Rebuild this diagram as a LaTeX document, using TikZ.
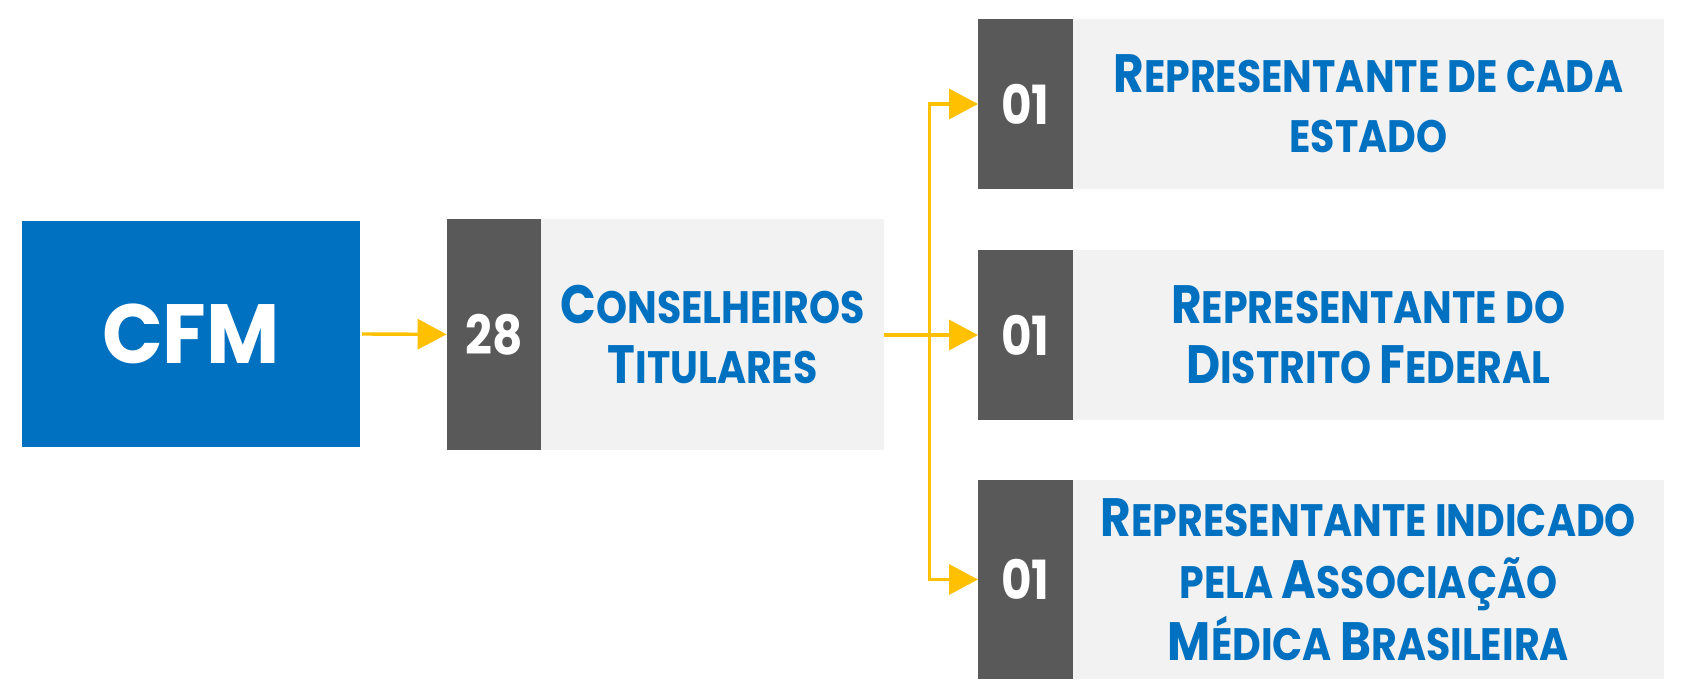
\documentclass[tikz,border=0pt]{standalone}
\usepackage{fontspec}
\setmainfont{Poppins}
\newfontfamily\narrowfont{Poppins}[FakeStretch=0.87]
\newfontfamily\cfmfont{Poppins}[FakeStretch=0.95]
\usetikzlibrary{arrows.meta}
\definecolor{cblue}{HTML}{0070C0}
\definecolor{cdark}{HTML}{595959}
\definecolor{clight}{HTML}{F2F2F2}
\definecolor{cyel}{HTML}{FFC000}
\newcommand\Cap[1]{{\fontsize{27}{31}\selectfont #1}}
\begin{document}
\begin{tikzpicture}[x=0.5pt,y=-0.5pt,
  box/.style={inner sep=0pt, outer sep=0pt, draw=none},
  darkbox/.style={box, fill=cdark, text=white, minimum width=47.4pt,
     font=\narrowfont\bfseries\fontsize{27}{30}\selectfont},
  lightbox/.style={box, fill=clight, text=cblue, align=center,
     font=\narrowfont\bfseries\fontsize{22.7}{30}\selectfont},
  line/.style={draw=cyel, line width=1.7pt},
  conn/.style={line, -{Triangle[length=14.5pt,width=15pt]}}]
\useasboundingbox[fill=white] (0,0) rectangle (1683,697);
% CFM
\node[box, fill=cblue, text=white, minimum width=169pt, minimum height=113pt,
  font=\cfmfont\bfseries\fontsize{42}{48}\selectfont] (cfm) at (191,334) {CFM};
% 28 box
\node[darkbox, minimum height=115.35pt] (d0) at (494,334.35) {28};
\node[lightbox, minimum width=171.35pt, minimum height=115.35pt] (l0) at (712.65,334.35)
  {\Cap{C}ONSELHEIROS\\\Cap{T}ITULARES};
% right boxes
\node[darkbox, minimum height=85pt] (d1) at (1025.4,104) {01};
\node[lightbox, minimum width=295.6pt, minimum height=85pt] (l1) at (1368.4,104)
  {\Cap{R}EPRESENTANTE DE CADA\\ESTADO};
\node[darkbox, minimum height=85pt] (d2) at (1025.4,335) {01};
\node[lightbox, minimum width=295.6pt, minimum height=85pt] (l2) at (1368.4,335)
  {\Cap{R}EPRESENTANTE DO\\\Cap{D}ISTRITO \Cap{F}EDERAL};
\node[darkbox, minimum height=99.5pt] (d3) at (1025.4,579.5) {01};
\node[lightbox, minimum width=295.6pt, minimum height=99.5pt,
  font=\narrowfont\bfseries\fontsize{22.7}{31}\selectfont] (l3) at (1368.4,579.5)
  {\Cap{R}EPRESENTANTE INDICADO\\PELA \Cap{A}SSOCIAÇÃO\\\Cap{M}ÉDICA \Cap{B}RASILEIRA};
% connectors
\coordinate (tr) at (929.6,335);
\draw[conn] ([xshift=1pt]cfm.east) -- (d0.west);
\draw[conn] (l0.east |- tr) -- (d2.west);
\draw[conn] (tr) |- (d1.west);
\draw[conn] (tr) |- (d3.west);
\end{tikzpicture}
\end{document}
